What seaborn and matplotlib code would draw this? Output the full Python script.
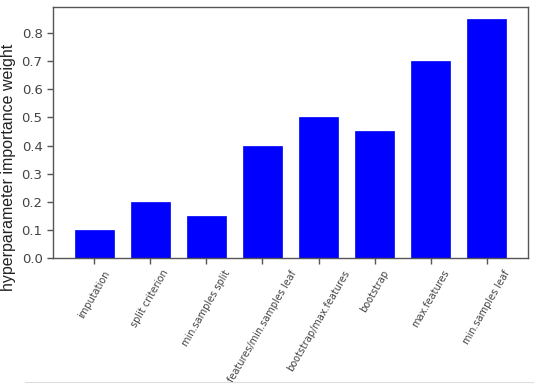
import matplotlib
matplotlib.use("Agg")
import matplotlib.pyplot as plt
import seaborn as sns
import pandas as pd
from matplotlib.lines import Line2D

categories = ["imputation", "split criterion", "min.samples split",
              "features/min.samples leaf", "bootstrap/max.features",
              "bootstrap", "max.features", "min.samples leaf"]
weights = [0.10, 0.20, 0.15, 0.40, 0.50, 0.45, 0.70, 0.85]
yticks = [0.0, 0.1, 0.2, 0.3, 0.4, 0.5, 0.6, 0.7, 0.8]

df = pd.DataFrame({"param": categories, "weight": weights})

fig = plt.figure(figsize=(5.34, 3.88), dpi=100)
ax = fig.add_axes([53/534, 1 - 258/388, (528 - 53)/534, (258 - 7)/388])

sns.barplot(data=df, x="param", y="weight", color="#0000ff", saturation=1,
            width=0.7, ax=ax, edgecolor="#0000ff", linewidth=0.5)

ax.set_xlim(-0.735, len(categories) - 1 + 0.735)
ax.set_ylim(0, 0.8925)
ax.set_yticks(yticks)
ax.set_yticklabels([f"{v:.1f}" for v in yticks])
ax.set_xlabel("")
ax.set_ylabel("")
for s in ax.spines.values():
    s.set_color("#555555")
    s.set_linewidth(1.0)
ax.tick_params(axis="both", colors="#555555", length=4, width=1.0)
ax.tick_params(axis="y", labelsize=9.5, labelcolor="#444444")
ax.tick_params(axis="x", labelsize=7, labelcolor="#444444")
plt.setp(ax.get_xticklabels(), rotation=60, ha="center")

fig.text(1/534, 1 - 167/388, "hyperparameter importance weight", rotation=90,
         ha="left", va="center", fontsize=11.5, color="#222222",
         family="Liberation Sans")

fig.add_artist(Line2D([25/534, 1], [1 - 382/388, 1 - 382/388],
                      transform=fig.transFigure, color="#dddddd", linewidth=0.8))

fig.savefig("out.png", dpi=100)
